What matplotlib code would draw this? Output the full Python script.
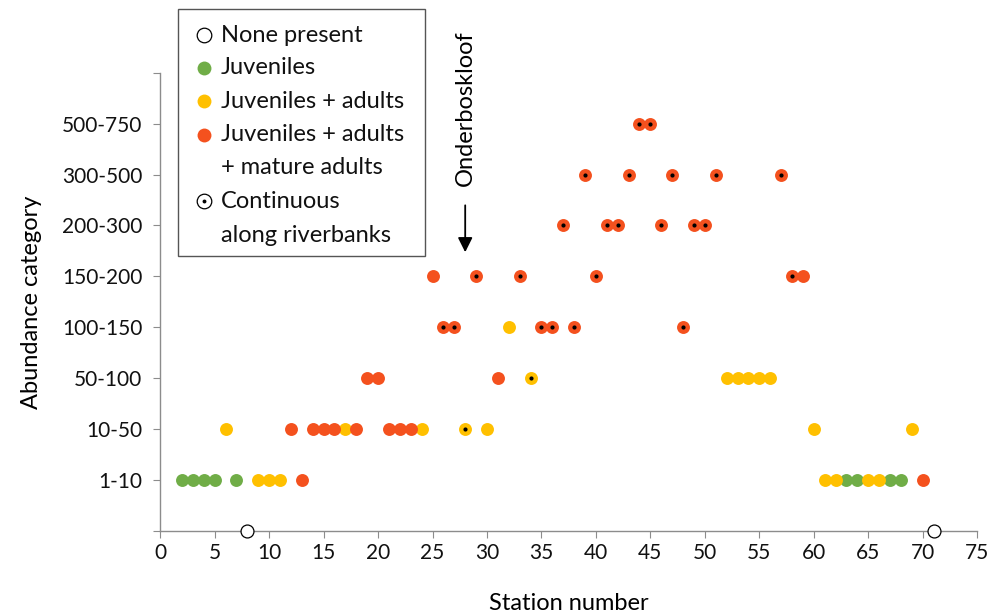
import matplotlib
matplotlib.use("Agg")
import matplotlib.pyplot as plt
from matplotlib.patches import Rectangle
from matplotlib.lines import Line2D

plt.rcParams['font.family'] = ['Lato', 'DejaVu Sans']

# abundance categories (level 1..8), level 0 = none present
categories = ['1-10', '10-50', '50-100', '100-150', '150-200', '200-300', '300-500', '500-750']

# stations with no plants
none_x = [8, 71]
none_y = [0, 0]

# juveniles only
green_x = [2, 3, 4, 5, 7, 63, 64, 67, 68]
green_y = [1, 1, 1, 1, 1, 1, 1, 1, 1]

# juveniles + adults
yellow_x = [6, 9, 10, 11, 17, 24, 28, 30, 32, 34, 52, 53, 54, 55, 56, 60, 61, 62, 65, 66, 69]
yellow_y = [2, 1, 1, 1, 2, 2, 2, 2, 4, 3, 3, 3, 3, 3, 3, 2, 1, 1, 1, 1, 2]

# juveniles + adults + mature adults
red_x = [12, 13, 14, 15, 16, 18, 19, 20, 21, 22, 23, 25, 26, 27, 29, 31, 33, 35, 36, 37,
         38, 39, 40, 41, 42, 43, 44, 45, 46, 47, 48, 49, 50, 51, 57, 58, 59, 70]
red_y = [2, 1, 2, 2, 2, 2, 3, 3, 2, 2, 2, 5, 4, 4, 5, 3, 5, 4, 4, 6,
         4, 7, 5, 6, 6, 7, 8, 8, 6, 7, 4, 6, 6, 7, 7, 5, 5, 1]

# stations where plants are continuous along riverbanks
continuous = [26, 27, 28, 29, 33, 34, 35, 36, 37, 38, 39, 40, 41, 42, 43, 44, 45, 46,
              47, 48, 49, 50, 51, 57, 58]

GREEN = '#70AD47'
YELLOW = '#FFC000'
RED = '#F4511E'

fig = plt.figure(figsize=(9.89, 6.16), dpi=100)
ax = fig.add_axes([0.162, 0.138, 0.826, 0.744])

ms = 9.3
ax.plot(green_x, green_y, 'o', color=GREEN, ms=ms, mec='none', clip_on=False, zorder=3)
ax.plot(yellow_x, yellow_y, 'o', color=YELLOW, ms=ms, mec='none', clip_on=False, zorder=3)
ax.plot(red_x, red_y, 'o', color=RED, ms=ms, mec='none', clip_on=False, zorder=3)
ax.plot(none_x, none_y, 'o', mfc='white', mec='black', mew=0.9, ms=ms, clip_on=False, zorder=4)

level = dict(zip(yellow_x, yellow_y))
level.update(dict(zip(red_x, red_y)))
cont_y = [level[s] for s in continuous]
ax.plot(continuous, cont_y, 'o', color='black', ms=3, mec='none', zorder=5)

ax.set_xlim(0, 75)
ax.set_ylim(0, 9)
ax.set_xticks(range(0, 76, 5))
ax.set_yticks(range(0, 10))
ax.set_yticklabels([''] + categories + [''])
ax.spines['top'].set_visible(False)
ax.spines['right'].set_visible(False)
for s in ('left', 'bottom'):
    ax.spines[s].set_color('#8c8c8c')
    ax.spines[s].set_linewidth(1.0)
ax.tick_params(axis='both', direction='out', length=5, color='#8c8c8c', labelsize=15,
               labelcolor='#111111')
ax.tick_params(axis='y', pad=8)
ax.set_xlabel('Station number', fontsize=17, labelpad=22)
ax.set_ylabel('Abundance category', fontsize=17, labelpad=14)

# Onderboskloof marker
ax.annotate('', xy=(28, 5.42), xytext=(28, 6.45),
            arrowprops=dict(arrowstyle='-|>', color='black', lw=1.3, mutation_scale=22),
            annotation_clip=False)
ax.text(28, 6.78, 'Onderboskloof', rotation=90, ha='center', va='bottom', fontsize=17,
        clip_on=False)

# legend drawn by hand (markers sit on the first line of two-line labels)
def fx(x):
    return x / 989.0

def fy(y):
    return 1 - y / 616.0

fig.patches.append(Rectangle((fx(178), fy(256)), fx(425) - fx(178), fy(9) - fy(256),
                             transform=fig.transFigure, fill=False, ec='#555555', lw=1.0))
mx = fx(204)
tx = fx(221)
rows = [(35, 'None present'), (68, 'Juveniles'), (101, 'Juveniles + adults'),
        (135, 'Juveniles + adults'), (168, '+ mature adults'), (201, 'Continuous'),
        (235, 'along riverbanks')]
for y, label in rows:
    fig.text(tx, fy(y), label, fontsize=17, va='center', ha='left', color='#111111')
fig.lines.append(Line2D([mx], [fy(35)], marker='o', mfc='white', mec='black', mew=0.9, ms=10.5,
                        transform=fig.transFigure))
fig.lines.append(Line2D([mx], [fy(68)], marker='o', color=GREEN, mec='none', ms=10,
                        transform=fig.transFigure))
fig.lines.append(Line2D([mx], [fy(101)], marker='o', color=YELLOW, mec='none', ms=10,
                        transform=fig.transFigure))
fig.lines.append(Line2D([mx], [fy(135)], marker='o', color=RED, mec='none', ms=10,
                        transform=fig.transFigure))
fig.lines.append(Line2D([mx], [fy(201)], marker='o', mfc='white', mec='black', mew=0.9, ms=10.5,
                        transform=fig.transFigure))
fig.lines.append(Line2D([mx], [fy(201)], marker='o', color='black', mec='none', ms=2.8,
                        transform=fig.transFigure))

fig.savefig('out.png', dpi=100)
